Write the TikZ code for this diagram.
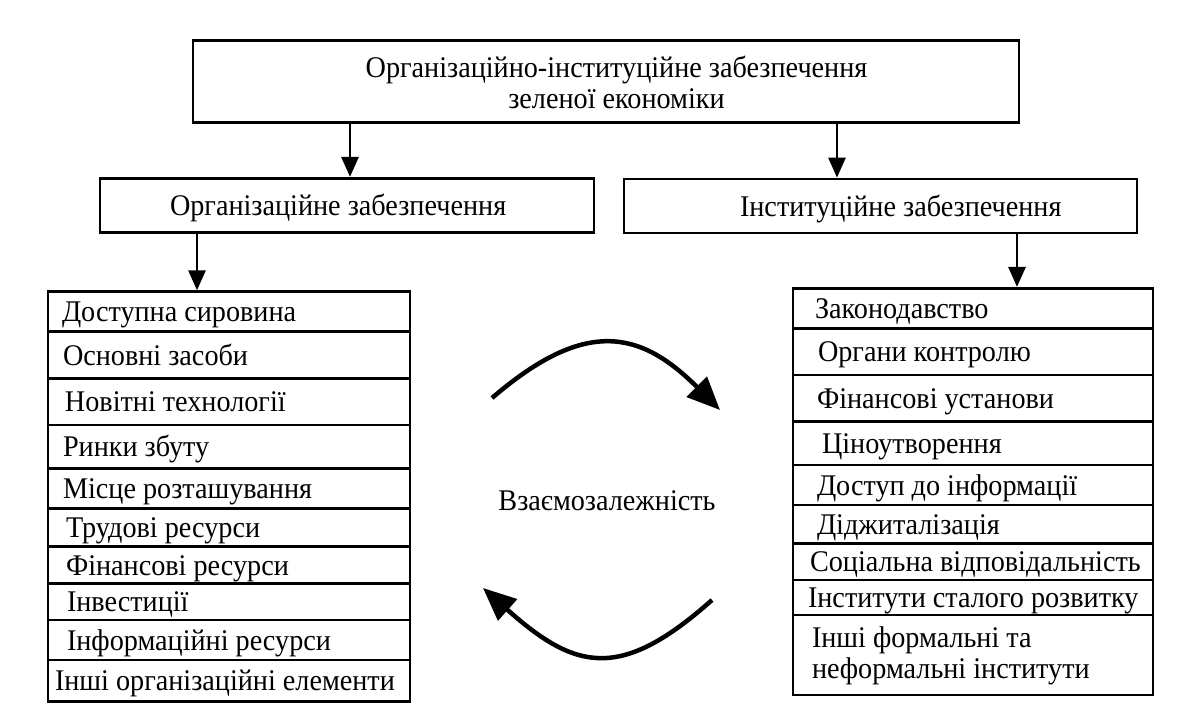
\documentclass[tikz,border=0pt]{standalone}
\usepackage{fontspec}
\setmainfont{Liberation Serif}[FakeStretch=0.94]
\usetikzlibrary{arrows.meta}
\newcommand{\lcellx}[2]{\makebox[362pt][l]{\hspace{#1}#2}}
\newcommand{\rcellx}[2]{\makebox[360pt][l]{\hspace{#1}#2}}
\begin{document}
\begin{tikzpicture}[x=1pt,y=-1pt,
  every node/.style={font=\fontsize{30}{31}\selectfont, inner sep=0pt},
  frame/.style={draw, line width=2.8pt},
  cell/.style={frame, minimum height=#1, text height=22pt, text depth=2pt},
  arr/.style={-{Triangle[length=20pt,width=17pt]}, line width=2.8pt},
  bigarr/.style={-{Triangle[length=33pt,width=28pt]}, line width=4.5pt}]
\useasboundingbox[fill=white] (0,0) rectangle (1184,724);

% top
\node[frame, minimum height=82pt, text height=53.6pt, text depth=0pt]
  (top) at (606,81.2) {\makebox[826pt]{\hspace{21pt}\begin{tabular}[b]{@{}c@{}}Організаційно-інституційне забезпечення\\зеленої економіки\end{tabular}}};

% second level
\node[frame, minimum height=54.4pt, text height=22pt, text depth=2pt]
  (lsub) at (347,205.5) {\makebox[494pt][l]{\hspace{70pt}Організаційне забезпечення}};
\node[frame, minimum height=54pt, text height=22pt, text depth=2pt]
  (rsub) at (880.5,206) {\makebox[513pt][l]{\hspace{116pt}Інституційне забезпечення}};

\coordinate (ra) at (837,0);
\coordinate (la) at (350,0);
\draw[arr] (top.south -| la) -- (lsub.north -| la);
\draw[arr] (top.south -| ra) -- (rsub.north -| ra);

% left list
\node[cell=40pt]   (l1)  at (229,311.7)  {\lcellx{14pt}{Доступна сировина}};
\node[cell=46.6pt] (l2)  at (229,355.0)  {\lcellx{15pt}{Основні засоби}};
\node[cell=46.7pt] (l3)  at (229,401.65) {\lcellx{17pt}{Новітні технології}};
\node[cell=43.3pt] (l4)  at (229,446.65) {\lcellx{15pt}{Ринки збуту}};
\node[cell=40pt]   (l5)  at (229,488.3)  {\lcellx{15pt}{Місце розташування}};
\node[cell=38.4pt] (l6)  at (229,527.5)  {\lcellx{18pt}{Трудові ресурси}};
\node[cell=36.6pt] (l7)  at (229,565.0)  {\lcellx{18pt}{Фінансові ресурси}};
\node[cell=36.7pt] (l8)  at (229,601.65) {\lcellx{19pt}{Інвестиції}};
\node[cell=40pt]   (l9)  at (229,640.0)  {\lcellx{19pt}{Інформаційні ресурси}};
\node[cell=41.7pt] (l10) at (229,680.85) {\lcellx{7pt}{Інші організаційні елементи}};

% right list
\node[cell=40pt]   (r1) at (973,308.3)  {\rcellx{22pt}{Законодавство}};
\node[cell=46.7pt] (r2) at (973,351.65) {\rcellx{25pt}{Органи контролю}};
\node[cell=46.7pt] (r3) at (973,398.35) {\rcellx{24pt}{Фінансові установи}};
\node[cell=43.3pt] (r4) at (973,443.35) {\rcellx{29pt}{Ціноутворення}};
\node[cell=40pt]   (r5) at (973,485.0)  {\rcellx{24pt}{Доступ до інформації}};
\node[cell=38.3pt] (r6) at (973,524.15) {\rcellx{24pt}{Діджиталізація}};
\node[cell=36.7pt] (r7) at (973,561.65) {\rcellx{17pt}{Соціальна відповідальність}};
\node[cell=35pt]   (r8) at (973,597.5)  {\rcellx{15pt}{Інститути сталого розвитку}};
\node[frame, minimum height=80pt, text height=29pt, text depth=45pt] (r9) at (973,655.0)
  {\rcellx{19pt}{\begin{tabular}[t]{@{}l@{}}Інші формальні та\\неформальні інститути\end{tabular}}};

\coordinate (lb) at (197,0);
\coordinate (rb) at (1017,0);
\draw[arr] (lsub.south -| lb) -- (l1.north -| lb);
\draw[arr] (rsub.south -| rb) -- (r1.north -| rb);

% middle
\node[anchor=base] (mid) at (607,510) {Взаємозалежність};
\coordinate (u1) at (492,398);
\coordinate (u2) at (720,410);
\coordinate (d1) at (712,600);
\coordinate (d2) at (483,588);
\draw[bigarr] (u1) .. controls (585,318) and (640,330) .. (u2);
\draw[bigarr] (d1) .. controls (620,682) and (575,670) .. (d2);
\end{tikzpicture}
\end{document}
